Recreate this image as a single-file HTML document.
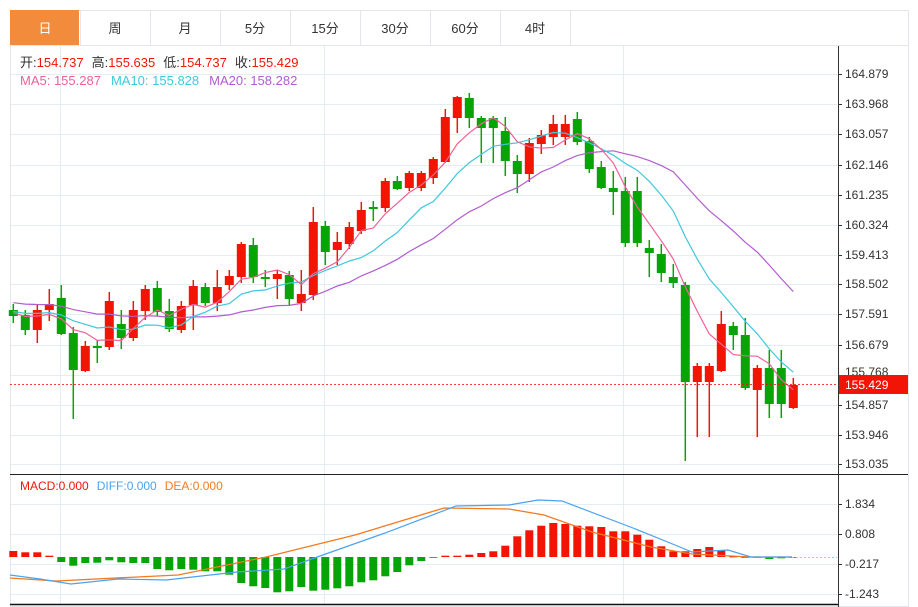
<!DOCTYPE html>
<html><head><meta charset="utf-8">
<style>
body{margin:0;background:#fff;width:918px;height:607px;overflow:hidden;font-family:"Liberation Sans","Noto Sans CJK SC",sans-serif;}
svg{position:absolute;left:0;top:0}
</style></head><body>
<svg id="s" width="918" height="607" xmlns="http://www.w3.org/2000/svg" font-family="Liberation Sans, Noto Sans CJK SC, sans-serif"></svg>
<script>
const s=document.getElementById('s');let h='';
// tabs
const tabs=['日','周','月','5分','15分','30分','60分','4时'];
h+='<rect x="10.5" y="10.5" width="898" height="596" fill="none" stroke="#e3e6ea"/>';
for(let i=0;i<8;i++){const x=10+i*70;
 if(i==0)h+=`<rect x="10" y="10" width="69" height="35" fill="#f28c3c"/>`;
 h+=`<line x1="${x+70.5}" y1="10" x2="${x+70.5}" y2="45" stroke="#e3e6ea"/>`;
 h+=`<text x="${x+35}" y="33" text-anchor="middle" font-size="13" fill="${i==0?'#fff':'#333'}">${tabs[i]}</text>`;}
h+='<line x1="10" y1="45.5" x2="908" y2="45.5" stroke="#e3e6ea"/>';
// grid
const labels=['164.879','163.968','163.057','162.146','161.235','160.324','159.413','158.502','157.591','156.679','155.768','154.857','153.946','153.035'];
const ly=[74,104,134,165,195,225,255,284,314,345,375,405,435,464];
for(let i=0;i<14;i++){h+=`<line x1="10" y1="${ly[i]+.5}" x2="837" y2="${ly[i]+.5}" stroke="#e4edf4"/>`;
 h+=`<line x1="838" y1="${ly[i]+.5}" x2="842" y2="${ly[i]+.5}" stroke="#333"/>`;
 if(i!=10)h+=`<text x="845" y="${ly[i]+4}" font-size="12" fill="#333">${labels[i]}</text>`;}
h+=`<text x="845" y="${ly[10]+1}" font-size="12" fill="#333">${labels[10]}</text>`;
[60.5,324.5,623.5].forEach(x=>{h+=`<line x1="${x}" y1="46" x2="${x}" y2="474" stroke="#e4edf4"/><line x1="${x}" y1="475" x2="${x}" y2="604" stroke="#e4edf4"/>`});
[504,534,564,594].forEach(y=>h+=`<line x1="10" y1="${y+.5}" x2="837" y2="${y+.5}" stroke="#e4edf4"/>`);
h+='<line x1="10.5" y1="46" x2="10.5" y2="604" stroke="#e3e6ea"/>';
// candles: [bodyTop,bodyBot,wickTop,wickBot,isRed]
const C=[[310,316,304,323,0],[315,330,310,335,0],[310,330,305,343,1],[304,310,289,321,1],[298,334,285,335,0],[333,370,327,419,0],[346,371,341,372,1],[346,348,340,363,0],[301,347,292,350,1],[324,338,310,349,0],[310,338,301,341,1],[289,311,285,320,1],[288,312,281,316,0],[311,329,299,332,0],[306,330,301,333,1],[286,305,280,330,1],[287,303,283,306,0],[287,303,270,311,1],[276,285,270,290,1],[244,277,242,283,1],[245,277,238,283,0],[277,279,270,287,0],[274,279,270,299,1],[275,299,271,305,0],[294,303,270,311,1],[222,295,207,300,1],[226,252,221,265,0],[242,250,232,265,1],[227,244,222,249,1],[210,231,202,234,1],[207,209,201,221,0],[181,208,178,212,1],[181,189,176,190,0],[173,188,171,191,1],[173,188,171,191,1],[159,178,157,184,1],[117,162,109,163,1],[97,118,96,133,1],[98,118,93,128,0],[118,128,116,163,0],[118,128,116,163,0],[131,161,117,176,0],[161,174,155,193,0],[143,174,138,182,1],[135,144,130,154,1],[124,137,115,145,1],[124,137,115,145,1],[119,142,112,145,0],[141,169,137,173,0],[167,188,161,189,0],[188,192,171,215,0],[191,243,177,247,0],[191,243,177,247,0],[248,253,240,277,0],[254,273,244,282,0],[277,283,264,288,0],[285,382,282,461,0],[366,382,363,437,1],[366,382,363,437,1],[324,371,311,372,1],[326,335,322,350,0],[335,388,318,390,0],[368,390,365,437,1],[368,404,350,418,0],[368,404,350,418,0],[385,408,378,409,1]];
const cx=i=>13.3+12*i;
C.forEach((c,i)=>{const x=cx(i),col=c[4]?'#f21505':'#06a406';
 h+=`<line x1="${x}" y1="${c[2]}" x2="${x}" y2="${c[3]}" stroke="${col}" stroke-width="1.5"/>`;
 h+=`<rect x="${x-4.5}" y="${c[0]}" width="9" height="${Math.max(1.5,c[1]-c[0])}" fill="${col}"/>`;});
const cl=C.map(c=>c[4]?c[0]:c[1]);
function ma(n,pad){let p='';for(let i=0;i<cl.length;i++){let sm=0;for(let k=i-n+1;k<=i;k++)sm+=k<0?pad:cl[k];p+=(i?'L':'M')+cx(i).toFixed(1)+' '+(sm/n).toFixed(1);}return p;}
h+=`<path d="${ma(20,302)}" fill="none" stroke="#b35ccf" stroke-width="1.2"/>`;
h+=`<path d="${ma(10,311)}" fill="none" stroke="#3ec8dc" stroke-width="1.2"/>`;
h+=`<path d="${ma(5,312)}" fill="none" stroke="#f0609a" stroke-width="1.2"/>`;
// current price
h+='<line x1="10" y1="384.5" x2="837" y2="384.5" stroke="#f21505" stroke-dasharray="2,2" opacity=".8"/>';
h+='<rect x="838" y="375" width="70" height="19" fill="#f21505"/><text x="845" y="389" font-size="12" fill="#fff">155.429</text>';
// info text
h+='<rect x="10" y="46" width="315" height="45" fill="#fff" opacity="0"/>';
h+='<text x="20" y="67" font-size="13"><tspan fill="#333">开:</tspan><tspan fill="#f21505">154.737</tspan><tspan fill="#333" dx="8">高:</tspan><tspan fill="#f21505">155.635</tspan><tspan fill="#333" dx="8">低:</tspan><tspan fill="#f21505">154.737</tspan><tspan fill="#333" dx="8">收:</tspan><tspan fill="#f21505">155.429</tspan></text>';
h+='<text x="20" y="85" font-size="13"><tspan fill="#f0609a">MA5: 155.287</tspan><tspan fill="#3ec8dc" dx="10">MA10: 155.828</tspan><tspan fill="#b35ccf" dx="10">MA20: 158.282</tspan></text>';
// axes
h+='<line x1="838.5" y1="46" x2="838.5" y2="607" stroke="#333"/>';
h+='<line x1="10" y1="474.5" x2="908" y2="474.5" stroke="#222"/>';
h+='<line x1="10" y1="604.5" x2="838" y2="604.5" stroke="#111" stroke-width="1.5"/>';
// MACD
const M=[6,4.7,4.7,1.3,-5,-8.7,-6,-5.7,-3.3,-5.3,-6,-6,-12,-13.3,-12,-12.7,-14.3,-14.3,-17.7,-26,-29.3,-31,-35.3,-34.3,-30,-33.7,-32.7,-31.3,-29.3,-25.3,-23.3,-19.3,-15,-8.3,-4,-0.7,
1.3,1.3,2.3,4,5.7,11.3,20.7,26.7,31.3,34,33,31.3,30.7,30,25.7,25.7,22.3,17.3,10.7,5.7,5.7,8,10,6.7,0.5,0,-0.7,-2,-1.3,0];
M.forEach((v,i)=>{const x=cx(i);const col=v>=0?'#f21505':'#06a406';const y=v>=0?557-v:557;h+=`<rect x="${x-4}" y="${y}" width="8" height="${Math.max(0.8,Math.abs(v))}" fill="${col}"/>`;});
h+='<line x1="792" y1="557.5" x2="837" y2="557.5" stroke="#8ccdf0" stroke-dasharray="2,2"/>';
h+='<path d="M10 578 L56 581 L178 575 L266 557 L355 535 L444 508 L509 509 L544 515 L592 532 L651 547 L692 554 L751 557 L792 557" fill="none" stroke="#f47a1f" stroke-width="1.3"/>';
h+='<path d="M10 575 L40 579 L71 584 L118 579 L166 580 L237 572 L284 569 L320 556 L385 533 L456 506 L509 505 L538 500 L562 501 L633 528 L675 545 L692 552 L728 550 L751 557 L792 557" fill="none" stroke="#4aa3f0" stroke-width="1.2"/>';
h+='<text x="20" y="490" font-size="12"><tspan fill="#f21505">MACD:0.000</tspan><tspan fill="#4aa3f0" dx="8">DIFF:0.000</tspan><tspan fill="#f47a1f" dx="8">DEA:0.000</tspan></text>';
const ml=['1.834','0.808','-0.217','-1.243'];[504,534,564,594].forEach((y,i)=>{h+=`<line x1="838" y1="${y+.5}" x2="842" y2="${y+.5}" stroke="#333"/><text x="845" y="${y+4}" font-size="12" fill="#333">${ml[i]}</text>`});
s.innerHTML=h;
</script>
</body></html>
